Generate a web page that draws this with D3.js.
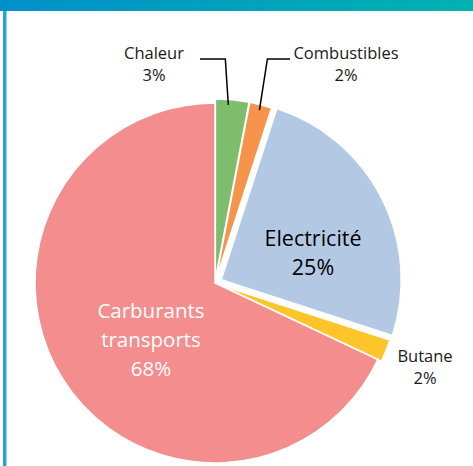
<!DOCTYPE html>
<html>
<head>
<meta charset="utf-8">
<script src="https://cdn.jsdelivr.net/npm/d3@7"></script>
<style>
  body { margin: 0; background: #fff; }
  text { font-family: "Open Sans", sans-serif; }
</style>
</head>
<body>
<div id="container"></div>
<script>
const categories = ["Chaleur", "Combustibles", "Electricité", "Butane", "Carburants transports"];
const values = [3, 2, 25, 2, 68];
const percentLabels = ["3%", "2%", "25%", "2%", "68%"];

const colors = ["#7dbd6b", "#f7944b", "#b3c9e3", "#fec52b", "#f48d8d"];
const explode = [4, 4, 7, 4, 0];

const width = 473;
const height = 466;
const cx = 215, cy = 283, radius = 180;

const svg = d3.select('#container')
  .append('svg')
  .attr('width', width)
  .attr('height', height)
  .attr('viewBox', [0, 0, width, height]);

// frame: gradient band on top, blue rule on the left
const grad = svg.append('defs').append('linearGradient')
  .attr('id', 'band')
  .attr('x1', '0%').attr('x2', '100%');
grad.append('stop').attr('offset', '0%').attr('stop-color', '#0090c9');
grad.append('stop').attr('offset', '100%').attr('stop-color', '#00b2b0');

svg.append('rect')
  .attr('x', 0).attr('y', 0)
  .attr('width', width).attr('height', 11)
  .attr('fill', 'url(#band)');

svg.append('rect')
  .attr('x', 3).attr('y', 11)
  .attr('width', 3.5).attr('height', height - 11)
  .attr('fill', '#22a5dc');

const pie = d3.pie().sort(null).value(d => d);
const arcs = pie(values);

const arc = d3.arc().innerRadius(0).outerRadius(radius);

const shift = (d, i) => {
  const mid = (d.startAngle + d.endAngle) / 2;
  return [Math.sin(mid) * explode[i], -Math.cos(mid) * explode[i]];
};

const g = svg.append('g')
  .attr('transform', `translate(${cx},${cy})`);

g.selectAll('path')
  .data(arcs)
  .join('path')
  .attr('transform', (d, i) => `translate(${shift(d, i)})`)
  .attr('d', arc)
  .attr('fill', (d, i) => colors[i])
  .attr('stroke', '#fff')
  .attr('stroke-width', 1.5);

// inner labels
const inner = [
  { i: 2, x: 313, y: 246, color: '#000', lines: ["Electricité", percentLabels[2]] },
  { i: 4, x: 151, y: 318, color: '#fff', lines: ["Carburants", "transports", percentLabels[4]] }
];

inner.forEach(l => {
  const t = svg.append('text')
    .attr('text-anchor', 'middle')
    .attr('font-size', l.i === 2 ? 21.5 : 20.5)
    .attr('fill', l.color);
  l.lines.forEach((s, k) => {
    t.append('tspan')
      .attr('x', l.x)
      .attr('y', l.y + k * 29)
      .text(s);
  });
});

// outer labels
const outer = [
  { i: 0, x: 154, y: 59, lineFrom: 200, elbowDx: -3, da: -0.02 },
  { i: 1, x: 346, y: 59, lineFrom: 290, elbowDx: 8, da: 0 },
  { i: 3, x: 425, y: 362, lineFrom: null }
];

outer.forEach(l => {
  svg.append('text')
    .attr('text-anchor', 'middle')
    .attr('font-size', 16.5)
    .attr('fill', '#1a1a1a')
    .call(t => {
      t.append('tspan').attr('x', l.x).attr('y', l.y).text(categories[l.i]);
      t.append('tspan').attr('x', l.x).attr('y', l.y + 22).text(percentLabels[l.i]);
    });

  if (l.lineFrom !== null) {
    const d = arcs[l.i];
    const [sx, sy] = shift(d, l.i);
    const a = (d.startAngle + d.endAngle) / 2 + l.da;
    const px = cx + sx + Math.sin(a) * radius * 0.97;
    const py = cy + sy - Math.cos(a) * radius * 0.97;
    const elbow = px + l.elbowDx;
    svg.append('polyline')
      .attr('points', [[l.lineFrom, l.y], [elbow, l.y], [px, py]].map(p => p.join(',')).join(' '))
      .attr('fill', 'none')
      .attr('stroke', '#000')
      .attr('stroke-width', 1.5);
  }
});
</script>
</body>
</html>
